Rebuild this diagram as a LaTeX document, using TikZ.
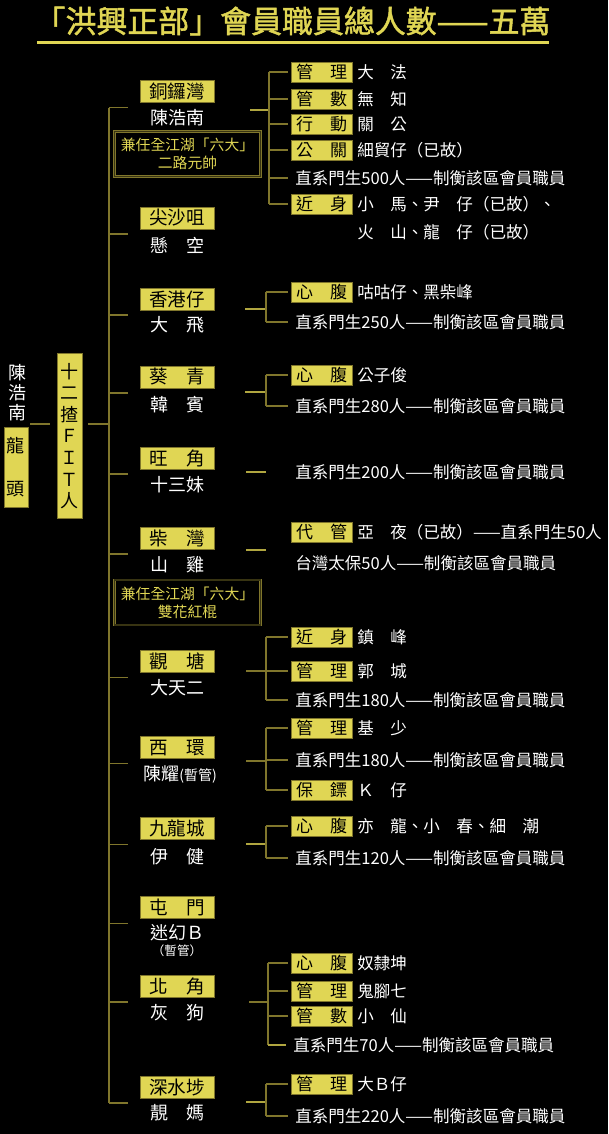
\documentclass[tikz,border=0pt]{standalone}
\usepackage{fontspec}
\usetikzlibrary{positioning}
\setmainfont{Noto Sans CJK TC}
\newfontfamily\titlefont[FakeBold=1.5]{Noto Sans CJK TC}
\definecolor{hkYellow}{RGB}{224,214,84}
\definecolor{hkOlive}{RGB}{128,118,44}
\definecolor{hkLine}{RGB}{176,166,64}
\definecolor{hkDark}{RGB}{56,52,18}

\begin{document}
\begin{tikzpicture}[x=0.75pt,y=-0.75pt,
    wire/.style={draw=hkOlive, line width=1.1pt},
    lead/.style={draw=hkLine, line width=1pt},
    dist/.style={fill=hkYellow, draw=hkOlive, line width=0.6pt, text=black, inner sep=0pt,
      minimum width=55.5pt, minimum height=16.5pt, font=\fontsize{13.9}{16}\selectfont},
    boss/.style={text=white, inner sep=0pt, font=\fontsize{13.5}{16}\selectfont},
    role/.style={fill=hkYellow, draw=hkOlive, line width=0.6pt, text=black, inner sep=0pt,
      minimum width=45.75pt, minimum height=15pt, font=\fontsize{12.75}{14}\selectfont},
    who/.style={text=white, inner sep=0pt, anchor=west, font=\fontsize{12.4}{14}\selectfont},
    direct/.style={who, inner xsep=5.25pt},
    sixbig/.style={draw=hkOlive, double=hkDark, double distance=0.9pt, line width=0.6pt,
      minimum width=109.5pt, minimum height=33.75pt, text=hkYellow, align=center,
      font=\fontsize{11.1}{13.5}\selectfont}]
  \fill[black] (0,0) rectangle (608,1134);
  \useasboundingbox (0,0) rectangle (608,1134);

  % title
  \node[text=hkYellow, font=\titlefont\fontsize{23.2}{26}\selectfont] (title) at (292.5,21)
    {「洪興正部」會員職員總人數——五萬};
  \coordinate (ulA) at (37,43);
  \coordinate (ulB) at (549,43);
  \draw[hkYellow, line width=2.25pt] (ulA) -- (ulB);

  % head of the society
  \node[boss, align=center, font=\fontsize{13.5}{15}\selectfont] (chief) at (17,393) {陳\\浩\\南};
  \node[fill=hkYellow, draw=hkOlive, line width=0.6pt, inner sep=0pt, minimum width=18pt,
    minimum height=60pt, align=center, font=\fontsize{13.5}{32.25}\selectfont] (head) at (16,467) {龍\\頭};
  \node[fill=hkYellow, draw=hkOlive, line width=0.6pt, inner sep=0pt, minimum width=18.75pt,
    minimum height=123.75pt, align=center, font=\fontsize{13.5}{16.2}\selectfont] (twelve) at (69.5,436) {十\\二\\揸\\Ｆ\\Ｉ\\Ｔ\\人};
  \coordinate (trunk) at (109,0);
  \coordinate (h1) at (30,424);
  \coordinate (h2) at (50,424);
  \coordinate (h3) at (88,424);
  \draw[wire] (h1) -- (h2);
  \draw[wire] (h3) -- (h3 -| trunk);

  % districts
  \node[dist] (d1) at (177,91.5) {銅鑼灣};
  \node[boss] (p1) at (177,118) {陳浩南};
  \node[sixbig] (s1) at (187.5,154) {兼任全江湖「六大」\\二路元帥};
  \node[dist] (d2) at (177,218) {尖沙咀};
  \node[boss] (p2) at (177,245) {懸　空};
  \node[dist] (d3) at (177,299) {香港仔};
  \node[boss] (p3) at (177,325) {大　飛};
  \node[dist] (d4) at (177,377) {葵　青};
  \node[boss] (p4) at (177,405) {韓　賓};
  \node[dist] (d5) at (177,458) {旺　角};
  \node[boss] (p5) at (177,485) {十三妹};
  \node[dist] (d6) at (177,538) {柴　灣};
  \node[boss] (p6) at (177,565) {山　雞};
  \node[sixbig] (s2) at (187.5,602.5) {兼任全江湖「六大」\\雙花紅棍};
  \node[dist] (d7) at (177,661.5) {觀　塘};
  \node[boss] (p7) at (177,688) {大天二};
  \node[dist] (d8) at (177,747.5) {西　環};
  \node[boss] (p8) at (180,774) {陳耀{\fontsize{10.5}{12}\selectfont(暫管)}};
  \node[dist] (d9) at (177,828.5) {九龍城};
  \node[boss] (p9) at (177,857) {伊　健};
  \node[dist] (d10) at (177,907.5) {屯　門};
  \node[boss] (p10) at (177,933) {迷幻Ｂ};
  \node[boss, font=\fontsize{9.4}{11}\selectfont, below=2.5pt of p10] (p10b) {（暫管）};
  \node[dist] (d11) at (177,986) {北　角};
  \node[boss] (p11) at (177,1013) {灰　狗};
  \node[dist] (d12) at (177,1087) {深水埗};
  \node[boss] (p12) at (177,1113) {靚　媽};

  % trunk and stubs
  \foreach \n in {1,...,12}
    \coordinate (k\n) at ([shift={(-9pt,-3.5pt)}]d\n.south west);
  \draw[wire] (trunk |- k1) -- (trunk |- k12);
  \foreach \n in {1,...,12}
    \draw[wire] (trunk |- k\n) -- (k\n);

  % 銅鑼灣
  \coordinate (l1) at (250,110);
  \coordinate (g1) at (269,110);
  \node[role] (r11) at (321.5,72) {管　理};
  \node[who] (w11) at (357,72) {大　法};
  \node[role] (r12) at (321.5,99) {管　數};
  \node[who] (w12) at (357,99) {無　知};
  \node[role] (r13) at (321.5,124) {行　動};
  \node[who] (w13) at (357,124) {關　公};
  \node[role] (r14) at (321.5,150) {公　關};
  \node[who] (w14) at (357,150) {細貿仔（已故）};
  \node[direct] (t15) at (288,178) {直系門生500人——制衡該區會員職員};
  \node[role] (r16) at (321.5,204) {近　身};
  \node[who] (w16) at (357,204) {小　馬、尹　仔（已故）、};
  \node[who] (w16b) at (357,232) {火　山、龍　仔（已故）};
  \draw[lead] (l1) -- (g1);
  \draw[wire] (r11.west -| g1) -- (r16.west -| g1);
  \foreach \r in {r11,r12,r13,r14,r16}
    \draw[wire, shorten >=2.25pt] (\r.west -| g1) -- (\r.west);
  \draw[wire] (t15.west -| g1) -- (t15.west);

  % 香港仔
  \coordinate (l3) at (245,309);
  \coordinate (g3) at (266,309);
  \node[role] (r31) at (321.5,292) {心　腹};
  \node[who] (w31) at (357,292) {咕咕仔、黑柴峰};
  \node[direct] (t32) at (288,322) {直系門生250人——制衡該區會員職員};
  \draw[lead] (l3) -- (g3);
  \draw[wire] (r31.west -| g3) -- (t32.west -| g3);
  \draw[wire, shorten >=2.25pt] (r31.west -| g3) -- (r31.west);
  \draw[wire] (t32.west -| g3) -- (t32.west);

  % 葵青
  \coordinate (l4) at (245,392);
  \coordinate (g4) at (266,392);
  \node[role] (r41) at (321.5,375) {心　腹};
  \node[who] (w41) at (357,375) {公子俊};
  \node[direct] (t42) at (288,406) {直系門生280人——制衡該區會員職員};
  \draw[lead] (l4) -- (g4);
  \draw[wire] (r41.west -| g4) -- (t42.west -| g4);
  \draw[wire, shorten >=2.25pt] (r41.west -| g4) -- (r41.west);
  \draw[wire] (t42.west -| g4) -- (t42.west);

  % 旺角
  \coordinate (l5) at (246,472);
  \coordinate (g5) at (266,472);
  \node[direct] (t51) at (288,472) {直系門生200人——制衡該區會員職員};
  \draw[lead] (l5) -- (g5);

  % 柴灣
  \coordinate (l6) at (246,550);
  \coordinate (g6) at (266,550);
  \node[role] (r61) at (321.5,532) {代　管};
  \node[who] (w61) at (357,532) {亞　夜（已故）——直系門生50人};
  \node[direct] (t62) at (288,563) {台灣太保50人——制衡該區會員職員};
  \draw[lead] (l6) -- (g6);

  % 觀塘
  \coordinate (l7) at (246,671);
  \coordinate (g7) at (266,671);
  \node[role] (r71) at (321.5,637) {近　身};
  \node[who] (w71) at (357,637) {鎮　峰};
  \node[role] (r72) at (321.5,671) {管　理};
  \node[who] (w72) at (357,671) {郭　城};
  \node[direct] (t73) at (288,700) {直系門生180人——制衡該區會員職員};
  \draw[wire] (l7) -- (g7);
  \draw[wire] (r71.west -| g7) -- (t73.west -| g7);
  \foreach \r in {r71,r72}
    \draw[wire, shorten >=2.25pt] (\r.west -| g7) -- (\r.west);
  \draw[wire] (t73.west -| g7) -- (t73.west);

  % 西環
  \coordinate (l8) at (246,761);
  \coordinate (g8) at (266,761);
  \node[role] (r81) at (321.5,728) {管　理};
  \node[who] (w81) at (357,728) {基　少};
  \node[direct] (t82) at (288,760) {直系門生180人——制衡該區會員職員};
  \node[role] (r83) at (321.5,790) {保　鏢};
  \node[who] (w83) at (357,790) {Ｋ　仔};
  \draw[wire] (l8) -- (g8);
  \draw[wire] (r81.west -| g8) -- (r83.west -| g8);
  \foreach \r in {r81,r83}
    \draw[wire, shorten >=2.25pt] (\r.west -| g8) -- (\r.west);
  \draw[wire] (t82.west -| g8) -- (t82.west);

  % 九龍城
  \coordinate (l9) at (246,844);
  \coordinate (g9) at (266,844);
  \node[role] (r91) at (321.5,826) {心　腹};
  \node[who] (w91) at (357,826) {亦　龍、小　春、細　潮};
  \node[direct] (t92) at (288,858) {直系門生120人——制衡該區會員職員};
  \draw[lead] (l9) -- (g9);
  \draw[wire] (r91.west -| g9) -- (t92.west -| g9);
  \draw[wire, shorten >=2.25pt] (r91.west -| g9) -- (r91.west);
  \draw[wire] (t92.west -| g9) -- (t92.west);

  % 北角
  \coordinate (l11) at (249,1002);
  \coordinate (g11) at (268,1002);
  \node[role] (r111) at (321.5,963) {心　腹};
  \node[who] (w111) at (357,963) {奴隸坤};
  \node[role] (r112) at (321.5,991) {管　理};
  \node[who] (w112) at (357,991) {鬼腳七};
  \node[role] (r113) at (321.5,1016) {管　數};
  \node[who] (w113) at (357,1016) {小　仙};
  \node[direct] (t114) at (286,1045) {直系門生70人——制衡該區會員職員};
  \draw[wire] (l11) -- (g11);
  \draw[wire] (r111.west -| g11) -- (t114.west -| g11);
  \foreach \r in {r111,r112,r113}
    \draw[wire, shorten >=2.25pt] (\r.west -| g11) -- (\r.west);
  \draw[lead] (t114.west -| g11) -- (t114.west);

  % 深水埗
  \coordinate (l12) at (246,1102);
  \coordinate (g12) at (266,1102);
  \node[role] (r121) at (321.5,1084) {管　理};
  \node[who] (w121) at (357,1084) {大Ｂ仔};
  \node[direct] (t122) at (288,1116) {直系門生220人——制衡該區會員職員};
  \draw[lead] (l12) -- (g12);
  \draw[wire] (r121.west -| g12) -- (t122.west -| g12);
  \draw[wire, shorten >=2.25pt] (r121.west -| g12) -- (r121.west);
  \draw[wire] (t122.west -| g12) -- (t122.west);
\end{tikzpicture}
\end{document}
